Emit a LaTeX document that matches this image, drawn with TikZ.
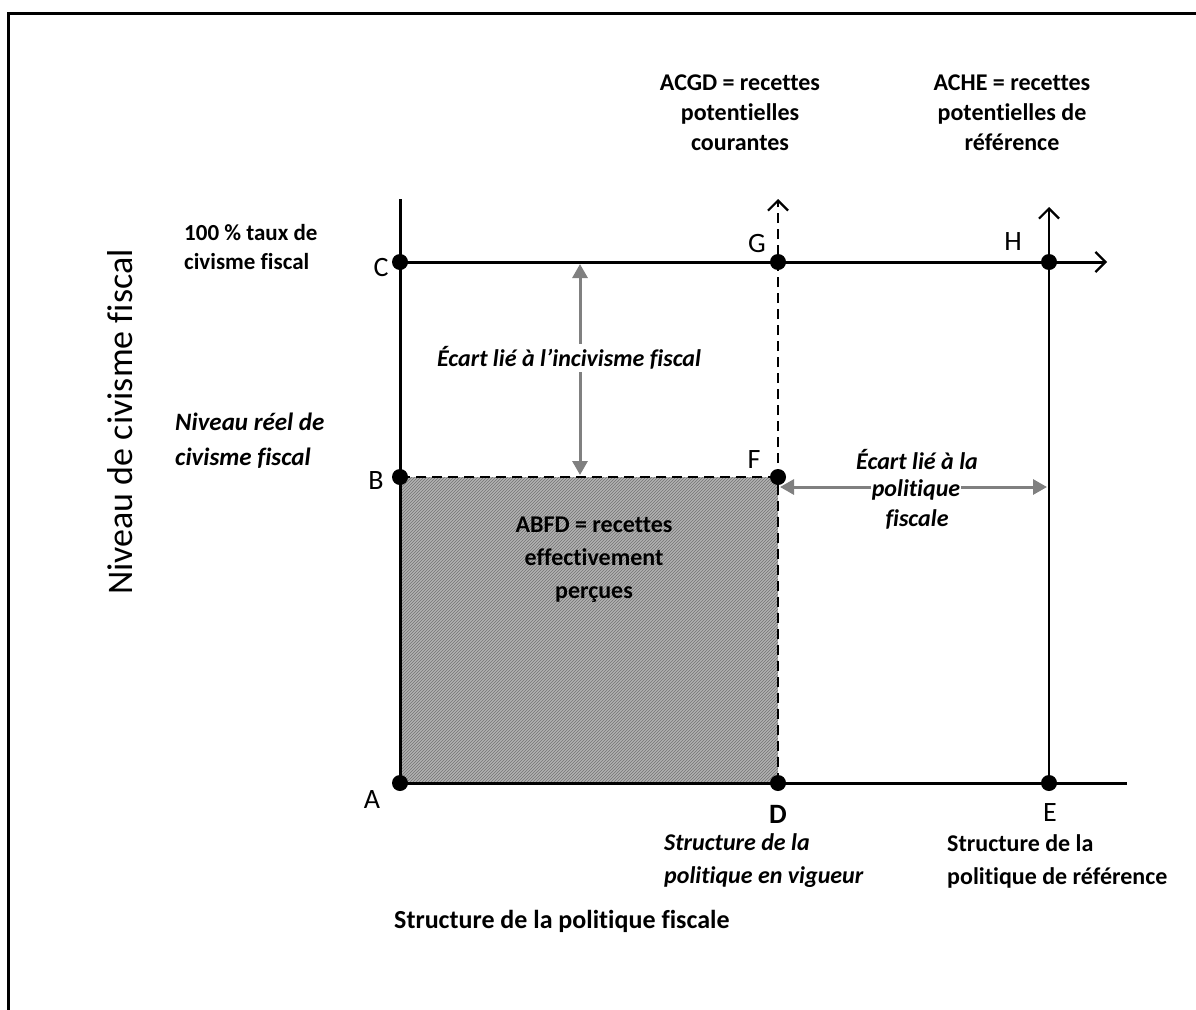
\documentclass[tikz,border=0pt]{standalone}
\usepackage{fontspec}
\setmainfont{Carlito}[Ligatures=NoCommon]
\usetikzlibrary{arrows.meta,patterns}
\begin{document}
\begin{tikzpicture}[x=1pt,y=-1pt,
  dot/.style={circle,fill=black,inner sep=0pt,minimum size=16pt},
  lbl/.style={font=\fontsize{28}{32}\selectfont,inner sep=0pt},
  btxt/.style={font=\fontsize{24}{33}\selectfont\bfseries,align=center,inner sep=0pt},
  bitxt/.style={font=\fontsize{24}{33}\selectfont\bfseries\itshape,align=center,inner sep=0pt},
  axisline/.style={line width=3pt},
  barb/.style={-{Straight Barb[length=10pt,width=20pt,line width=2.2pt]}},
  dashline/.style={line width=2.2pt,dash pattern=on 10pt off 6pt},
  gaparrow/.style={line width=3pt,draw=black!50,{Triangle[length=14pt,width=15pt]}-{Triangle[length=14pt,width=15pt]}}
]
\useasboundingbox (0,0) rectangle (1196,1009);
% frame
\draw[line width=3pt] (8,1012) -- (8,13) -- (1199,13);

% points
\coordinate (pA) at (400,783);
\coordinate (pB) at (400,477);
\coordinate (pC) at (400,262);
\coordinate (pD) at (778,783);
\coordinate (pE) at (1049,783);
\coordinate (pF) at (778,477);
\coordinate (pG) at (778,262);
\coordinate (pH) at (1049,262);
\coordinate (Ytop) at (400,199);
\coordinate (Xend) at (1127,783);
\coordinate (Hend) at (1107,262);
\coordinate (Etop) at (1049,207);
\coordinate (Dtop) at (778,199);

% shaded area
\fill[black!30] (pA) rectangle (pF);
\fill[pattern=north east lines,pattern color=black!55] (pA) rectangle (pF);

% axes and lines
\draw[axisline] (pA) -- (Ytop);
\draw[axisline] (pA) -- (Xend);
\draw[axisline,barb] (pC) -- (Hend);
\draw[line width=2.4pt,barb] (pE) -- (Etop);
\draw[dashline,barb] (pD) -- (Dtop);
\draw[dashline] (pB) -- (pF);

% dots
\foreach \p in {A,B,C,D,E,F,G,H} \node[dot] (\p) at (p\p) {};

% labels of points
\node[lbl] (lA) at (372,800) {A};
\node[lbl] (lB) at (376,481) {B};
\node[lbl] (lC) at (381,268) {C};
\node[lbl,font=\fontsize{28}{32}\selectfont\bfseries] (lD) at (778,814) {D};
\node[lbl] (lE) at (1050,813) {E};
\node[lbl] (lF) at (754,460) {F};
\node[lbl] (lG) at (757,244) {G};
\node[lbl] (lH) at (1013,242) {H};

% gap arrows
\coordinate (i1) at (580,264);
\coordinate (i2) at (580,475);
\draw[gaparrow] (i1) -- (i2);
\node[bitxt,fill=white,inner sep=3pt] (inc) at (569,358) {Écart lié à l’incivisme fiscal};

\coordinate (p1) at (780,487);
\coordinate (p2) at (1047,487);
\draw[gaparrow] (p1) -- (p2);
\node[bitxt,fill=white,inner sep=1pt] (pol2) at (916,490) {politique};
\node[bitxt] (pol1) at (917,460) {Écart lié à la};
\node[bitxt] (pol3) at (917,519) {fiscale};

% texts
\node[btxt] (abfd) at (594,560) {ABFD = recettes\\effectivement\\perçues};
\node[btxt,font=\fontsize{24}{30}\selectfont\bfseries] (acgd) at (740,113) {ACGD = recettes\\potentielles\\courantes};
\node[btxt,font=\fontsize{24}{30}\selectfont\bfseries] (ache) at (1012,113) {ACHE = recettes\\potentielles de\\référence};
\node[btxt,align=left,anchor=west,font=\fontsize{23}{29}\selectfont\bfseries] (cent) at (184,247) {100 \% taux de\\civisme fiscal};
\node[bitxt,align=left,anchor=west,font=\fontsize{25}{35}\selectfont\bfseries\itshape] (reel) at (175,441) {Niveau réel de\\civisme fiscal};
\node[bitxt,align=left,anchor=west] (vig) at (664,861) {Structure de la\\politique en vigueur};
\node[btxt,align=left,anchor=west] (ref) at (947,861) {Structure de la\\politique de référence};
\node[btxt,anchor=west,font=\fontsize{26}{33}\selectfont\bfseries] (spf) at (394,921) {Structure de la politique fiscale};
\node[font=\fontsize{36}{40}\selectfont,rotate=90] (ylab) at (120,422) {Niveau de civisme fiscal};
\end{tikzpicture}
\end{document}
